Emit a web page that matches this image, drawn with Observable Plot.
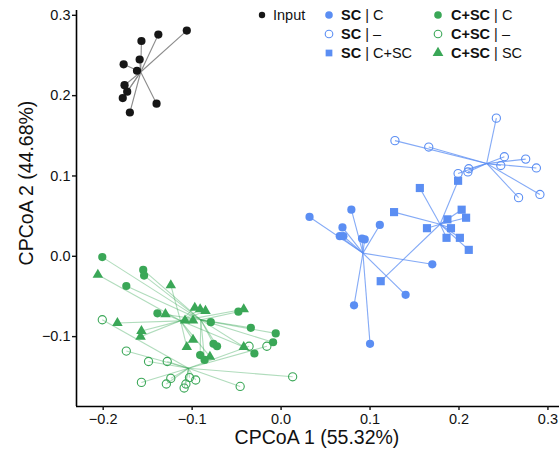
<!DOCTYPE html>
<html>
<head>
<meta charset="utf-8">
<script src="https://cdn.jsdelivr.net/npm/d3@7"></script>
<script src="https://cdn.jsdelivr.net/npm/@observablehq/plot@0.6"></script>
<style>
  html, body { margin: 0; padding: 0; background: white; }
  #wrap { position: relative; width: 559px; height: 450px; font-family: 'Liberation Sans', Arial, Helvetica, sans-serif; color: #111; }
  .leg { position: absolute; font-size: 14.5px; line-height: 16px; transform: translateY(-50%); white-space: nowrap; }
  .sym { position: absolute; transform: translate(-50%, -50%); }
  .title { position: absolute; font-size: 19.5px; white-space: nowrap; }
</style>
</head>
<body>
<div id="wrap"></div>
<script>
// ---- data (CPCoA 1, CPCoA 2) ----
const input = [[-0.106,0.281],[-0.138,0.276],[-0.157,0.268],[-0.159,0.245],[-0.177,0.239],[-0.162,0.231],[-0.176,0.213],[-0.173,0.205],[-0.178,0.197],[-0.140,0.190],[-0.170,0.179]];
const sc_C = [[0.032,0.049],[0.079,0.058],[0.069,0.036],[0.111,0.039],[0.066,0.025],[0.070,0.025],[0.091,0.022],[0.094,0.021],[0.170,-0.010],[0.140,-0.048],[0.082,-0.061],[0.100,-0.109]];
const sc_none = [[0.242,0.172],[0.128,0.144],[0.166,0.136],[0.251,0.124],[0.275,0.121],[0.287,0.110],[0.247,0.113],[0.211,0.109],[0.210,0.105],[0.199,0.103],[0.267,0.073],[0.291,0.077]];
const sc_CSC = [[0.199,0.094],[0.156,0.085],[0.127,0.055],[0.203,0.058],[0.208,0.048],[0.187,0.046],[0.164,0.035],[0.191,0.035],[0.186,0.023],[0.201,0.023],[0.211,0.008],[0.112,-0.031]];
const csc_C = [[-0.201,-0.001],[-0.155,-0.017],[-0.154,-0.024],[-0.174,-0.037],[-0.139,-0.071],[-0.048,-0.069],[-0.079,-0.082],[-0.034,-0.089],[-0.006,-0.096],[-0.009,-0.107],[-0.076,-0.109],[-0.072,-0.112],[-0.030,-0.121],[-0.091,-0.123],[-0.086,-0.129]];
const csc_none = [[-0.201,-0.079],[-0.174,-0.118],[-0.149,-0.131],[-0.128,-0.131],[-0.036,-0.112],[-0.016,-0.112],[-0.157,-0.157],[-0.129,-0.159],[-0.124,-0.152],[-0.103,-0.151],[-0.096,-0.154],[-0.107,-0.159],[-0.109,-0.164],[-0.046,-0.162],[0.013,-0.150]];
const csc_SC = [[-0.206,-0.023],[-0.124,-0.036],[-0.097,-0.064],[-0.091,-0.066],[-0.085,-0.068],[-0.042,-0.066],[-0.130,-0.072],[-0.108,-0.080],[-0.099,-0.080],[-0.184,-0.083],[-0.157,-0.093],[-0.158,-0.100],[-0.099,-0.104],[-0.106,-0.113],[-0.080,-0.125],[-0.042,-0.113]];

const xTicks = [-0.2, -0.1, 0.0, 0.1, 0.2, 0.3];
const yTicks = [-0.1, 0.0, 0.1, 0.2, 0.3];
const xLabel = "CPCoA 1 (55.32%)";
const yLabel = "CPCoA 2 (44.68%)";

const BLUE = "#5b8ef3", GREEN = "#3aa757", BLACK = "#161616";

const groups = [
  {data: input,    color: BLACK, symbol: "circle",   filled: true,  r: 4.1, line: "#8c8c8c", lineOpacity: 1},
  {data: sc_C,     color: BLUE,  symbol: "circle",   filled: true,  r: 4.1, line: BLUE, lineOpacity: 0.75},
  {data: sc_none,  color: BLUE,  symbol: "circle",   filled: false, r: 4.1, line: BLUE, lineOpacity: 0.75},
  {data: sc_CSC,   color: BLUE,  symbol: "square",   filled: true,  r: 4.6, line: BLUE, lineOpacity: 0.75},
  {data: csc_C,    color: GREEN, symbol: "circle",   filled: true,  r: 4.1, line: GREEN, lineOpacity: 0.4},
  {data: csc_none, color: GREEN, symbol: "circle",   filled: false, r: 4.1, line: GREEN, lineOpacity: 0.4},
  {data: csc_SC,   color: GREEN, symbol: "triangle", filled: true,  r: 3.9, line: GREEN, lineOpacity: 0.4}
];

const linkMarks = [], dotMarks = [];
for (const g of groups) {
  const cx = d3.mean(g.data, d => d[0]), cy = d3.mean(g.data, d => d[1]);
  const rows = g.data.map(([x, y]) => ({x, y, cx, cy}));
  linkMarks.push(Plot.link(rows, {x1: "cx", y1: "cy", x2: "x", y2: "y", stroke: g.line, strokeOpacity: g.lineOpacity, strokeWidth: 1.1}));
  dotMarks.push(Plot.dot(rows, {x: "x", y: "y", symbol: g.symbol, r: g.r,
    fill: g.filled ? g.color : "none", stroke: g.filled ? "none" : g.color, strokeWidth: g.filled ? 0 : 1.1}));
}

const fmt = d3.format(".1f");
const chart = Plot.plot({
  width: 559, height: 450,
  marginLeft: 76, marginRight: 0, marginTop: 10, marginBottom: 44,
  x: {domain: [-0.23, 0.313]},
  y: {domain: [-0.187, 0.306]},
  style: {fontFamily: "'Liberation Sans', Arial, Helvetica, sans-serif", fontSize: "14.5px", color: "#111", background: "white"},
  marks: [
    ...linkMarks,
    ...dotMarks,
    Plot.ruleX([-0.23], {stroke: "black", strokeWidth: 1.6}),
    Plot.ruleY([-0.187], {stroke: "black", strokeWidth: 1.6}),
    Plot.axisX({ticks: xTicks, tickFormat: fmt, tickSize: 4, tickPadding: 3, label: null, fontSize: 14.5, strokeWidth: 1.4}),
    Plot.axisY({ticks: yTicks, tickFormat: fmt, tickSize: 4, tickPadding: 2, label: null, fontSize: 14.5, strokeWidth: 1.4})
  ]
});
const wrap = document.getElementById("wrap");
wrap.appendChild(chart);

// axis titles
const xt = document.createElement("div");
xt.className = "title"; xt.textContent = xLabel;
xt.style.left = "317px"; xt.style.top = "437px"; xt.style.transform = "translate(-50%, -50%)";
wrap.appendChild(xt);
const yt = document.createElement("div");
yt.className = "title"; yt.textContent = yLabel;
yt.style.left = "26px"; yt.style.top = "183px"; yt.style.transform = "translate(-50%, -50%) rotate(-90deg)";
wrap.appendChild(yt);

// legend
const legendItems = [
  {sx: 262, tx: 273, y: 15, color: BLACK, symbol: "circle", filled: true, bold: "", rest: "Input", small: true},
  {sx: 329, tx: 341, y: 15, color: BLUE,  symbol: "circle", filled: true,  bold: "SC", rest: " | C"},
  {sx: 329, tx: 341, y: 34, color: BLUE,  symbol: "circle", filled: false, bold: "SC", rest: " | \u2013"},
  {sx: 329, tx: 341, y: 53, color: BLUE,  symbol: "square", filled: true,  bold: "SC", rest: " | C+SC"},
  {sx: 438, tx: 451, y: 15, color: GREEN, symbol: "circle", filled: true,  bold: "C+SC", rest: " | C"},
  {sx: 438, tx: 451, y: 34, color: GREEN, symbol: "circle", filled: false, bold: "C+SC", rest: " | \u2013"},
  {sx: 438, tx: 451, y: 53, color: GREEN, symbol: "triangle", filled: true, bold: "C+SC", rest: " | SC"}
];
for (const it of legendItems) {
  const s = document.createElementNS("http://www.w3.org/2000/svg", "svg");
  s.setAttribute("width", 14); s.setAttribute("height", 14);
  s.setAttribute("class", "sym");
  s.style.left = it.sx + "px"; s.style.top = it.y + "px";
  const size = it.small ? 3.2 : 3.8;
  const path = document.createElementNS("http://www.w3.org/2000/svg", "path");
  const sym = it.symbol === "square" ? d3.symbolSquare : it.symbol === "triangle" ? d3.symbolTriangle : d3.symbolCircle;
  const rr = it.symbol === "triangle" ? 4.0 : size;
  path.setAttribute("d", d3.symbol(sym, rr * rr * Math.PI)());
  path.setAttribute("transform", "translate(7,7)");
  path.setAttribute("fill", it.filled ? it.color : "none");
  path.setAttribute("stroke", it.filled ? "none" : it.color);
  path.setAttribute("stroke-width", 1.1);
  s.appendChild(path);
  wrap.appendChild(s);
  const t = document.createElement("div");
  t.className = "leg";
  t.style.left = it.tx + "px"; t.style.top = it.y + "px";
  if (it.bold) {
    const b = document.createElement("b"); b.textContent = it.bold; t.appendChild(b);
  }
  t.appendChild(document.createTextNode(it.rest));
  wrap.appendChild(t);
}
</script>
</body>
</html>
